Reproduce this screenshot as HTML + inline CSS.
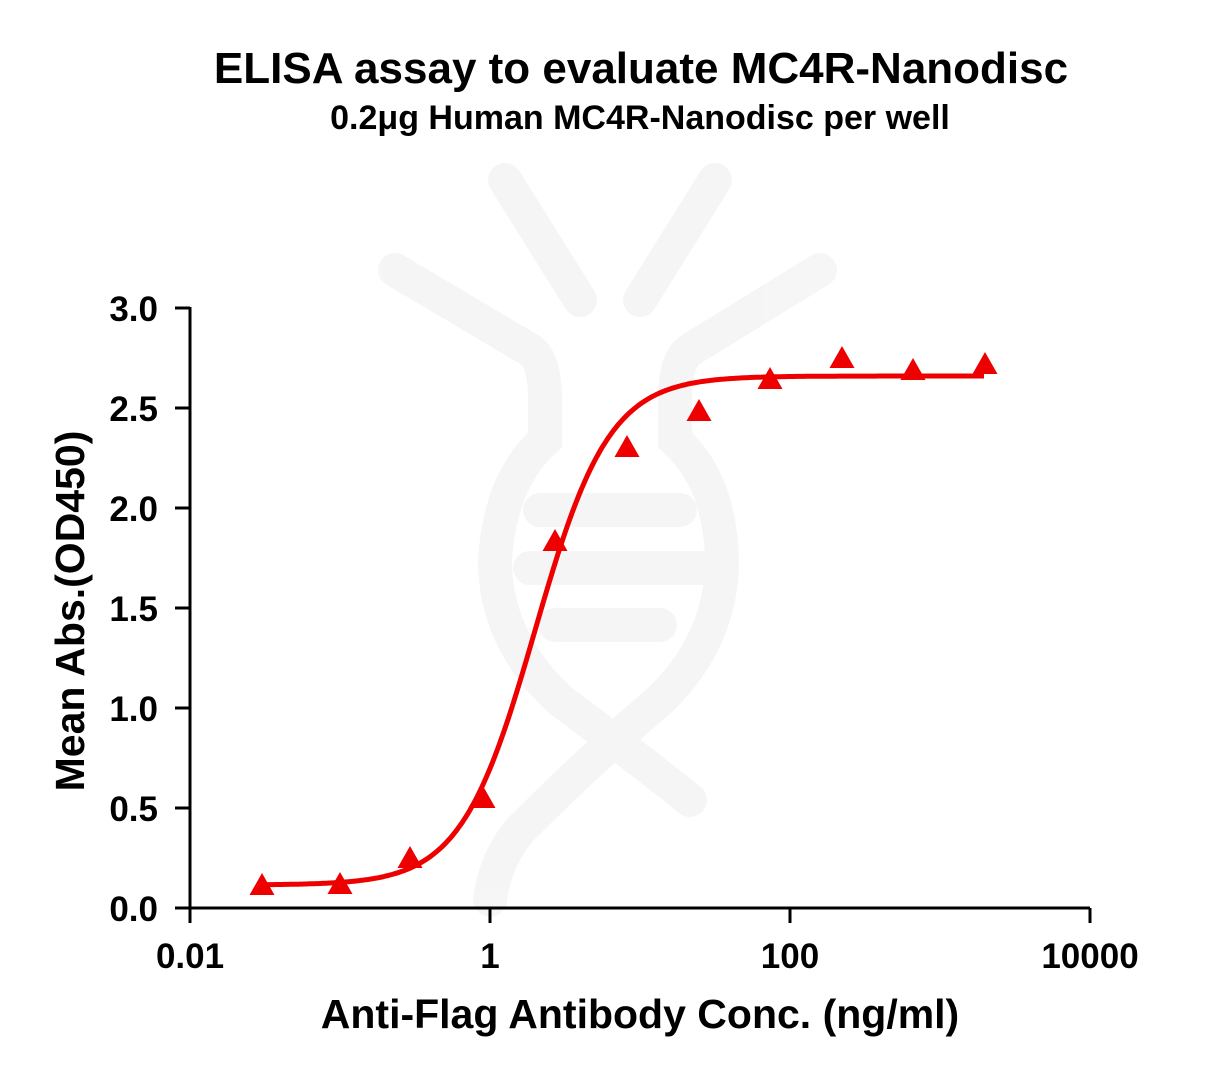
<!DOCTYPE html>
<html><head><meta charset="utf-8"><style>
html,body{margin:0;padding:0;background:#fff}
svg{display:block}
text{font-family:"Liberation Sans",Arial,sans-serif;font-weight:bold;fill:#000}
</style></head><body>
<svg width="1217" height="1079" viewBox="0 0 1217 1079" xmlns="http://www.w3.org/2000/svg">
<g opacity="0.035" fill="none" stroke="#000" stroke-width="34" stroke-linecap="round">
<path d="M505 180 L580 300"/><path d="M715 180 L640 300"/>
<path d="M395 270 L530 350 Q545 360 545 400 L545 440 Q500 480 495 560 Q495 640 560 700 Q640 760 690 800"/>
<path d="M820 270 L690 350 Q675 360 675 400 L675 440 Q720 480 722 560 Q722 640 660 700 Q590 760 520 830 Q495 860 490 900"/>
<path d="M540 510 L680 510"/><path d="M530 568 L700 568"/><path d="M555 625 L660 625"/>
</g>
<text x="641" y="83" font-size="44" text-anchor="middle">ELISA assay to evaluate MC4R-Nanodisc</text>
<text x="640" y="129" font-size="34" text-anchor="middle">0.2μg Human MC4R-Nanodisc per well</text>
<g stroke="#000" stroke-width="3" fill="none">
<path d="M190 307 L190 908 L1090 908"/>
<path d="M175 308H190M175 408H190M175 508H190M175 608H190M175 708H190M175 808H190M175 908H190"/>
<path d="M190 908V923M490 908V923M790 908V923M1090 908V923"/>
</g>
<g font-size="35" text-anchor="end">
<text x="158" y="921">0.0</text><text x="158" y="821">0.5</text><text x="158" y="721">1.0</text>
<text x="158" y="621">1.5</text><text x="158" y="521">2.0</text><text x="158" y="421">2.5</text><text x="158" y="321">3.0</text>
</g>
<g font-size="35" text-anchor="middle">
<text x="190" y="968">0.01</text><text x="490" y="968">1</text><text x="790" y="968">100</text><text x="1090" y="968">10000</text>
</g>
<text x="640" y="1028" font-size="41" text-anchor="middle">Anti-Flag Antibody Conc. (ng/ml)</text>
<text transform="translate(84,611) rotate(-90)" font-size="41" text-anchor="middle">Mean Abs.(OD450)</text>
<path id="curve" fill="none" stroke="#e00" stroke-width="5"/>
<g id="pts" fill="#e00"></g>
</svg>
<script>
var d="";for(var x=262;x<=985;x+=2){var f=1/(1+Math.exp(-0.027*(x-535)));var v=0.115+2.545*f;var y=908-200*v;d+=(x==262?"M":"L")+x+" "+y.toFixed(1);}
document.getElementById("curve").setAttribute("d",d);
var P=[[262,895],[340,894],[410,868],[483,808],[555,551],[627,457],[699,421],[770,389],[842,368],[913,380],[985,374]];
var g=document.getElementById("pts"),s="";
P.forEach(function(p){s+='<polygon points="'+(p[0]-12.5)+','+p[1]+' '+(p[0]+12.5)+','+p[1]+' '+p[0]+','+(p[1]-22)+'"/>';});
g.innerHTML=s;
</script>
</body></html>
